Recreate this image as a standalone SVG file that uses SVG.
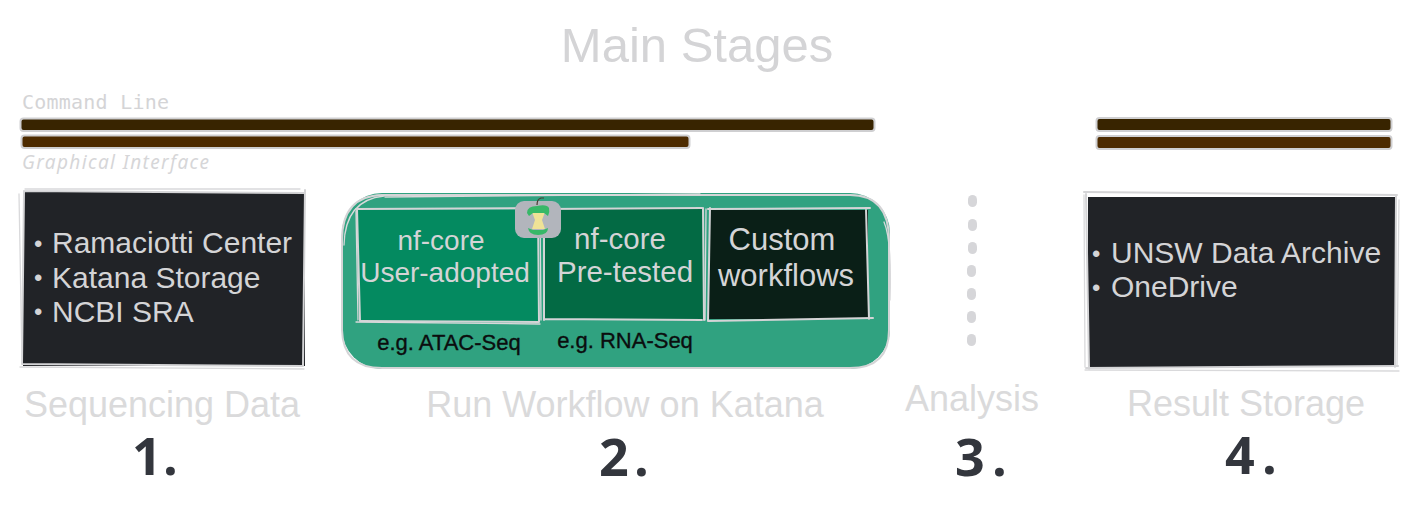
<svg xmlns="http://www.w3.org/2000/svg" width="1415" height="514" viewBox="0 0 1415 514">
<style>
text{font-family:"Liberation Sans",Arial,sans-serif}
.lt{fill:#d4d4d6}
.st{fill:#dadadb;font-size:36px}
.inner{fill:#d4d4d6;font-size:30px}
.blt{fill:#d4d4d6;font-size:24px}
.eg{fill:#0b0d0e;font-size:22px;stroke:#0b0d0e;stroke-width:.35}
.num{fill:#33363d;font-family:"Open Sans","Noto Sans",sans-serif;font-size:52px;font-weight:700}
.sk{fill:none;stroke:#d4d4d6;stroke-width:2;stroke-linecap:round;stroke-linejoin:round}
.skt{fill:none;stroke:#d9d9db;stroke-width:1.3;stroke-linecap:round}
.bar{stroke:#cfcfd1;stroke-width:2}
.dot{fill:#d6d6d9}
</style>
<rect width="1415" height="514" fill="#ffffff"/>
<g id="title"><text class="lt" x="697" y="62" text-anchor="middle" font-size="49">Main Stages</text></g>
<g id="mode-labels">
<text x="22" y="109" font-size="20" fill="#d4d4d6" style="font-family:'DejaVu Sans Mono','Liberation Mono',monospace" textLength="147">Command Line</text>
<text x="22" y="169" font-size="19" fill="#d6d6d8" style="font-family:'Noto Sans',sans-serif;font-style:italic" textLength="187">Graphical Interface</text>
</g>
<g id="bars">
<rect class="bar" x="20.500" y="118.500" width="854" height="12.500" rx="3" fill="#382400"/>
<rect class="bar" x="21.500" y="135.500" width="668" height="12.500" rx="3" fill="#4d2b00"/>
<rect class="bar" x="1096.500" y="118" width="295" height="13" rx="3" fill="#382400"/>
<rect class="bar" x="1096.500" y="136" width="295" height="13" rx="3" fill="#4d2b00"/>
</g>
<g id="sequencing-data">
<rect x="23" y="192" width="282" height="174" fill="#212327"/>
<path class="sk" d="M24 191L305 193M22 364L303 366M24 191L22 364M305 190L303 366"/>
<path class="skt" d="M19 194L22 362M20 367L304 369M25 189L300 189"/>
<text class="blt" x="34" y="252">•</text><text class="inner" x="52" y="253">Ramaciotti Center</text>
<text class="blt" x="34" y="286">•</text><text class="inner" x="52" y="288">Katana Storage</text>
<text class="blt" x="34" y="320">•</text><text class="inner" x="52" y="322">NCBI SRA</text>
</g>
<g id="run-workflow">
<rect x="342" y="193" width="548" height="176" rx="40" fill="#30a280"/>
<path class="sk" d="M382 195H850Q889 195 889 240V330Q889 368 850 368H382Q343 368 342 330V240Q342 196 382 195Z"/>
<path class="skt" d="M385 197L700 194M344 245Q345 200 384 196M890 300Q892 240 884 222"/>
</g>
<g id="nf-core-user">
<rect x="358" y="210" width="182" height="112" fill="#048a60"/>
<path class="sk" d="M356 209L536 208M361 321L539 322M357 209L360 321M538 208L539 322"/>
<path class="skt" d="M356 322L540 324M356 211L358 320"/>
<text class="inner" style="font-size:28px" x="441" y="250" text-anchor="middle">nf-core</text>
<text class="inner" style="font-size:28px" x="445" y="282" text-anchor="middle">User-adopted</text>
<text class="eg" x="449" y="350" text-anchor="middle">e.g. ATAC-Seq</text>
</g>
<g id="nf-core-tested">
<rect x="544" y="208" width="160" height="112" fill="#036a44"/>
<path class="sk" d="M544 209L702 208M544 319L702 320M544 208L544 320M703 208L704 320"/>
<path class="skt" d="M540 210L541 320"/>
<text class="inner" style="font-size:29.500px" x="620" y="249" text-anchor="middle">nf-core</text>
<text class="inner" style="font-size:29.500px" x="625" y="282" text-anchor="middle">Pre-tested</text>
<text class="eg" x="625" y="348" text-anchor="middle">e.g. RNA-Seq</text>
</g>
<g id="custom-workflows">
<rect x="709" y="210" width="159" height="109" fill="#0a1f17"/>
<path class="sk" d="M708 209L870 208M708 321L873 318M710 208L708 321M866 209L869 319"/>
<path class="skt" d="M706 209L705 320"/>
<text class="inner" style="font-size:31px" x="782" y="250" text-anchor="middle">Custom</text>
<text class="inner" style="font-size:31px" x="786" y="286" text-anchor="middle">workflows</text>
</g>
<g id="apple-icon">
<rect x="515" y="201" width="46" height="37" rx="9" fill="#b2b5bc"/>
<path d="M537 205Q537 199 541 198H544" fill="none" stroke="#4a3a30" stroke-width="1.200"/>
<path d="M532 212H545L542 220L545 229H532L535 220Z" fill="#efe296"/>
<path d="M527 213Q527 206 537 206Q547 204 549 208Q550 212 548 216L544 213H533L529 216Z" fill="#37b868"/>
<path d="M528 228L533 230H543L548 228Q548 235 538 235Q529 235 528 228Z" fill="#37b868"/>
</g>
<g id="analysis-dots">
<rect class="dot" x="968" y="195" width="9" height="12" rx="4.500"/>
<rect class="dot" x="968" y="219" width="9" height="12" rx="4.500"/>
<rect class="dot" x="968" y="242" width="9" height="12" rx="4.500"/>
<rect class="dot" x="967" y="265" width="9" height="12" rx="4.500"/>
<rect class="dot" x="967" y="288" width="9" height="12" rx="4.500"/>
<rect class="dot" x="967" y="311" width="9" height="12" rx="4.500"/>
<rect class="dot" x="967" y="334" width="9" height="12" rx="4.500"/>
</g>
<g id="result-storage">
<rect x="1088" y="197" width="308" height="170" fill="#212327"/>
<path class="sk" d="M1084 192L1397 195M1086 368L1398 366M1086 193L1089 369M1396 195L1395 367"/>
<path class="skt" d="M1085 370L1399 371M1084 195L1085 367M1399 200L1397 365"/>
<text class="blt" x="1092" y="262">•</text><text class="inner" x="1111" y="263">UNSW Data Archive</text>
<text class="blt" x="1092" y="296">•</text><text class="inner" x="1111" y="297">OneDrive</text>
</g>
<g id="stage-labels">
<text class="st" x="162" y="417" text-anchor="middle">Sequencing Data</text>
<text class="st" x="625" y="417" text-anchor="middle">Run Workflow on Katana</text>
<text class="st" x="972" y="411" text-anchor="middle">Analysis</text>
<text class="st" x="1246" y="416" text-anchor="middle">Result Storage</text>
</g>
<g id="stage-numbers">
<text class="num" x="132" y="475">1<tspan x="163">.</tspan></text>
<text class="num" x="599" y="476">2<tspan x="634">.</tspan></text>
<text class="num" x="955" y="476">3<tspan x="992">.</tspan></text>
<text class="num" x="1225" y="474">4<tspan x="1262">.</tspan></text>
</g>
</svg>
